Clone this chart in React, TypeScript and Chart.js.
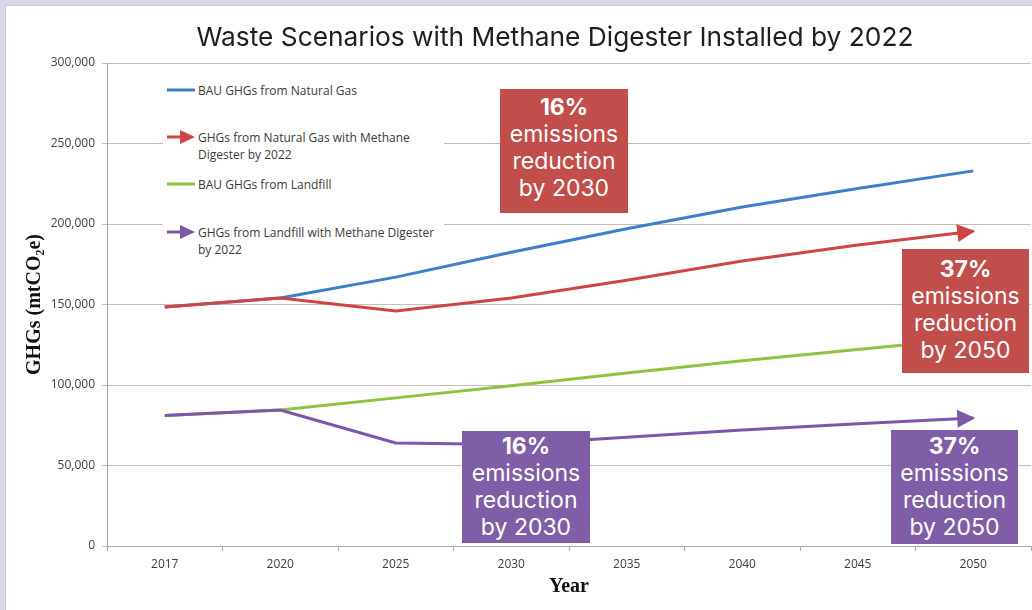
import React, { useEffect, useRef } from 'react';
import { Chart, registerables } from 'chart.js';

Chart.register(...registerables);

// ---- data ----
const years = ['2017', '2020', '2025', '2030', '2035', '2040', '2045', '2050'];
const bauNaturalGas = [148500, 154000, 167000, 182500, 197000, 210500, 222000, 233000];
const digesterNaturalGas = [148500, 154000, 146000, 154000, 165000, 177000, 187000, 195500];
const bauLandfill = [81000, 84500, 92000, 99500, 107500, 115000, 122000, 129000];
const digesterLandfill = [81000, 84500, 64000, 63000, 67500, 72000, 76000, 79500];
const seriesNames = [
  'BAU GHGs from Natural Gas',
  'GHGs from Natural Gas with Methane Digester by 2022',
  'BAU GHGs from Landfill',
  'GHGs from Landfill with Methane Digester by 2022',
];
const yMin = 0;
const yMax = 300000;
const yStep = 50000;
const chartTitle = 'Waste Scenarios with Methane Digester Installed by 2022';
const yTitle = 'GHGs (mtCO₂e)';
const xTitle = 'Year';

const BLUE = '#3f7ecb';
const RED = '#cf4544';
const GREEN = '#8dc43f';
const PURPLE = '#7d58aa';
const RED_BOX = '#c24e4b';
const PURPLE_BOX = '#7f5ea7';

const arrowPlugin = {
  id: 'arrowHeads',
  afterDatasetsDraw(chart: any) {
    const ctx = chart.ctx;
    chart.data.datasets.forEach((ds: any, i: number) => {
      if (!ds.arrowHead) return;
      const pts = chart.getDatasetMeta(i).data;
      const n = pts.length;
      if (n < 2) return;
      const a = pts[n - 2];
      const b = pts[n - 1];
      const ang = Math.atan2(b.y - a.y, b.x - a.x);
      ctx.save();
      ctx.translate(b.x, b.y);
      ctx.rotate(ang);
      ctx.beginPath();
      ctx.moveTo(2, 0);
      ctx.lineTo(-16, -9);
      ctx.lineTo(-16, 9);
      ctx.closePath();
      ctx.fillStyle = ds.borderColor;
      ctx.fill();
      ctx.restore();
    });
  },
};

const boxes = [
  { pct: '16%', year: '2030', left: 500, top: 89, w: 128, h: 124, pad: 5, bg: RED_BOX },
  { pct: '37%', year: '2050', left: 902, top: 249, w: 127, h: 124, pad: 7, bg: RED_BOX },
  { pct: '16%', year: '2030', left: 462, top: 431, w: 128, h: 112, pad: 2, bg: PURPLE_BOX },
  { pct: '37%', year: '2050', left: 891, top: 430, w: 127, h: 114, pad: 3, bg: PURPLE_BOX },
];

function LegendIcon({ color, arrow }: { color: string; arrow: boolean }) {
  return (
    <svg width={30} height={16} style={{ display: 'block', flex: 'none' }}>
      {arrow ? (
        <>
          <line x1={1} y1={8} x2={16} y2={8} stroke={color} strokeWidth={3} />
          <polygon points="14,1 29,8 14,15" fill={color} />
        </>
      ) : (
        <line x1={1} y1={8} x2={29} y2={8} stroke={color} strokeWidth={3} />
      )}
    </svg>
  );
}

export default function App() {
  const ref = useRef<HTMLCanvasElement | null>(null);

  useEffect(() => {
    if (!ref.current) return;
    const chart = new Chart(ref.current, {
      type: 'line',
      data: {
        labels: years,
        datasets: [
          { label: seriesNames[0], data: bauNaturalGas, borderColor: BLUE, order: 3 },
          { label: seriesNames[1], data: digesterNaturalGas, borderColor: RED, order: 1, arrowHead: true },
          { label: seriesNames[2], data: bauLandfill, borderColor: GREEN, order: 2 },
          { label: seriesNames[3], data: digesterLandfill, borderColor: PURPLE, order: 0, arrowHead: true },
        ].map((d: any) => ({
          ...d,
          borderWidth: 3,
          pointRadius: 0,
          tension: 0,
          fill: false,
          borderJoinStyle: 'round',
        })) as any,
      },
      options: {
        animation: false,
        responsive: false,
        layout: { padding: { top: 63, left: 20, right: 1, bottom: 0 } },
        plugins: {
          legend: { display: false },
          tooltip: { enabled: false },
          title: { display: false },
        },
        scales: {
          x: {
            type: 'category',
            offset: true,
            grid: { offset: true, drawOnChartArea: false, tickLength: 5, color: '#b3a8a6' },
            border: { color: '#b3a8a6' },
            ticks: { color: '#404040', font: { family: 'Open Sans', size: 12 }, padding: 6, maxRotation: 0 },
            title: {
              display: true,
              text: xTitle,
              color: '#111',
              font: { family: 'Liberation Serif', size: 20, weight: 'bold' },
              padding: { top: 0, bottom: 11 },
            },
            afterFit: (s: any) => {
              s.height = 64;
            },
          },
          y: {
            min: yMin,
            max: yMax,
            ticks: {
              stepSize: yStep,
              color: '#404040',
              font: { family: 'Open Sans', size: 12 },
              padding: 7,
            },
            grid: { color: '#c8bcba', tickLength: 5 },
            border: { color: '#a8a09e' },
            title: {
              display: true,
              text: yTitle,
              color: '#111',
              font: { family: 'Liberation Serif', size: 20, weight: 'bold' },
              padding: { top: 3, bottom: 0 },
            },
            afterFit: (s: any) => {
              s.width = 87;
            },
          },
        },
      } as any,
      plugins: [arrowPlugin],
    });
    return () => chart.destroy();
  }, []);

  const legendItems = [
    { color: BLUE, arrow: false, lines: ['BAU GHGs from Natural Gas'], top: 82 },
    { color: RED, arrow: true, lines: ['GHGs from Natural Gas with Methane', 'Digester by 2022'], top: 129 },
    { color: GREEN, arrow: false, lines: ['BAU GHGs from Landfill'], top: 176 },
    { color: PURPLE, arrow: true, lines: ['GHGs from Landfill with Methane Digester', 'by 2022'], top: 224 },
  ];

  return (
    <div
      style={{
        position: 'fixed',
        left: 0,
        top: 0,
        width: 1032,
        height: 610,
        background: '#ddd6e8',
        overflow: 'hidden',
      }}
    >
      <div
        style={{
          position: 'absolute',
          left: 5,
          top: 5,
          right: 0,
          bottom: 0,
          background: '#ffffff',
          borderLeft: '1px solid #cfc7d8',
          borderTop: '1px solid #cfc7d8',
        }}
      />
      <canvas
        ref={ref}
        width={1032}
        height={610}
        style={{ position: 'absolute', left: 0, top: 0, width: 1032, height: 610 }}
      />
      <div
        style={{
          position: 'absolute',
          left: 0,
          width: 1110,
          top: 21,
          textAlign: 'center',
          fontFamily: 'Inter, sans-serif',
          fontSize: 26.3,
          lineHeight: '32px',
          color: '#1e1e1e',
        }}
      >
        {chartTitle}
      </div>
      <div
        style={{
          position: 'absolute',
          left: 163,
          top: 76,
          width: 281,
          height: 186,
          background: '#ffffff',
        }}
      >
        {legendItems.map((it, i) => (
          <div
            key={i}
            style={{
              position: 'absolute',
              left: 3,
              top: it.top - 76,
              display: 'flex',
              alignItems: 'flex-start',
            }}
          >
            <LegendIcon color={it.color} arrow={it.arrow} />
            <div
              style={{
                marginLeft: 2,
                fontFamily: 'Open Sans, sans-serif',
                fontSize: 12,
                lineHeight: '17px',
                color: '#3a3a3a',
                whiteSpace: 'nowrap',
              }}
            >
              {it.lines.map((l, j) => (
                <div key={j}>{l}</div>
              ))}
            </div>
          </div>
        ))}
      </div>
      {boxes.map((b, i) => (
        <div
          key={i}
          style={{
            position: 'absolute',
            left: b.left,
            top: b.top,
            width: b.w,
            height: b.h,
            background: b.bg,
            color: '#ffffff',
            fontFamily: 'Inter, sans-serif',
            fontSize: 23,
            lineHeight: '27px',
            textAlign: 'center',
            paddingTop: b.pad,
            boxSizing: 'border-box',
            whiteSpace: 'nowrap',
          }}
        >
          <div style={{ fontWeight: 700 }}>{b.pct}</div>
          <div>emissions</div>
          <div>reduction</div>
          <div>by {b.year}</div>
        </div>
      ))}
    </div>
  );
}
